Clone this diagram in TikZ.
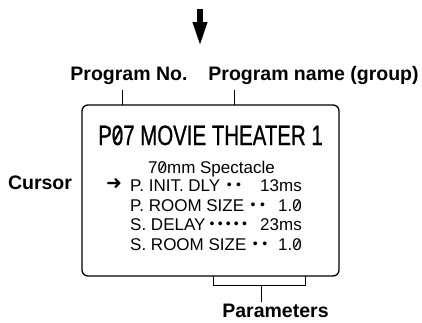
\documentclass[tikz,border=0pt]{standalone}
\usepackage{fontspec}
\setmainfont{Liberation Sans}
\newfontfamily\ecranfont[FakeStretch=0.73, FakeBold=0.8]{Liberation Sans}
\newfontfamily\simbolfont{DejaVu Sans}
\usetikzlibrary{positioning,arrows.meta,calc}
\newcommand{\zerot}{\ooalign{0\cr\hidewidth\raisebox{0.16em}{\rotatebox{62}{\rule{0.42em}{0.07em}}}\hidewidth\cr}}
\newcommand{\punct}{\hspace{4.5pt}\raisebox{1.8pt}{\fontsize{14}{14}\selectfont •}}
\newcommand{\punctmic}{\hspace{3.2pt}\raisebox{1.8pt}{\fontsize{14}{14}\selectfont •}}
\tikzset{
  eticheta/.style = {font=\fontsize{19.5}{20}\selectfont\bfseries, inner sep=0pt, anchor=base},
  rand/.style     = {font=\fontsize{17}{18}\selectfont, inner sep=0pt, anchor=base west},
  valoare/.style  = {font=\fontsize{17}{18}\selectfont, inner sep=0pt, anchor=base east},
  ecran/.style    = {draw, line width=1.3pt, rounded corners=6pt, outer sep=0pt},
  linie/.style    = {line width=1pt},
  sageata/.style  = {-{Triangle[length=25pt, width=13pt]}, line width=6pt}
}

\begin{document}
\begin{tikzpicture}[x=1pt, y=-1pt]
        \useasboundingbox (0,0) rectangle (422,322);

        \coordinate (sus) at (200,9);
        \coordinate (jos) at (200,47);
        \draw[sageata] (sus) -- (jos);

        \node[eticheta] (lnr) at (129,80) {Program No.};
        \node[eticheta] (lnume) at (313.5,80) {Program name (group)};
        \node[eticheta] (lcur) at (40,189) {Cursor};
        \node[eticheta] (lpar) at (275.5,317) {Parameters};

        \node[ecran, minimum width=257, minimum height=171] (disp) at (210.5,190.5) {};

        \node[font=\ecranfont\fontsize{28}{30}\selectfont, inner sep=0pt, anchor=base] (titlu) at (210.5,145) {P\zerot7 MOVIE THEATER 1};
        \node[rand] (sub) at (148,173) {7\zerot mm Spectacle};

        \node[font=\simbolfont\fontsize{19}{19}\selectfont, inner sep=0pt] (cursor) at (114,184.5) {➜};
        \node[rand] (r1) at (130,191.5) {P. INIT. DLY\hspace{2pt}\punct\punct};
        \node[valoare] (v1) at (302,191.5) {13ms};
        \node[rand] (r2) at (130,211) {P. ROOM SIZE\hspace{2pt}\punct\punct};
        \node[valoare] (v2) at (302,211) {1.\zerot};
        \node[rand] (r3) at (130,230.5) {S. DELAY\hspace{1pt}\punctmic\punctmic\punctmic\punctmic\punctmic};
        \node[valoare] (v3) at (302,230.5) {23ms};
        \node[rand] (r4) at (130,250) {S. ROOM SIZE\hspace{2pt}\punct\punct};
        \node[valoare] (v4) at (302,250) {1.\zerot};

        % liniute spre ecran
        \draw[linie] ([xshift=40pt]disp.north west) -- ++(0,-15);
        \draw[linie] ([xshift=152pt]disp.north west) -- ++(0,-15);

        % acolada parametri
        \coordinate (acolada) at ([xshift=179pt, yshift=-9pt]disp.south west);
        \draw[linie] ([xshift=131pt]disp.south west) -- ++(0,9) -| ([xshift=223pt]disp.south west);
        \draw[linie] (acolada) -- ++(0,17);
    \end{tikzpicture}
\end{document}
